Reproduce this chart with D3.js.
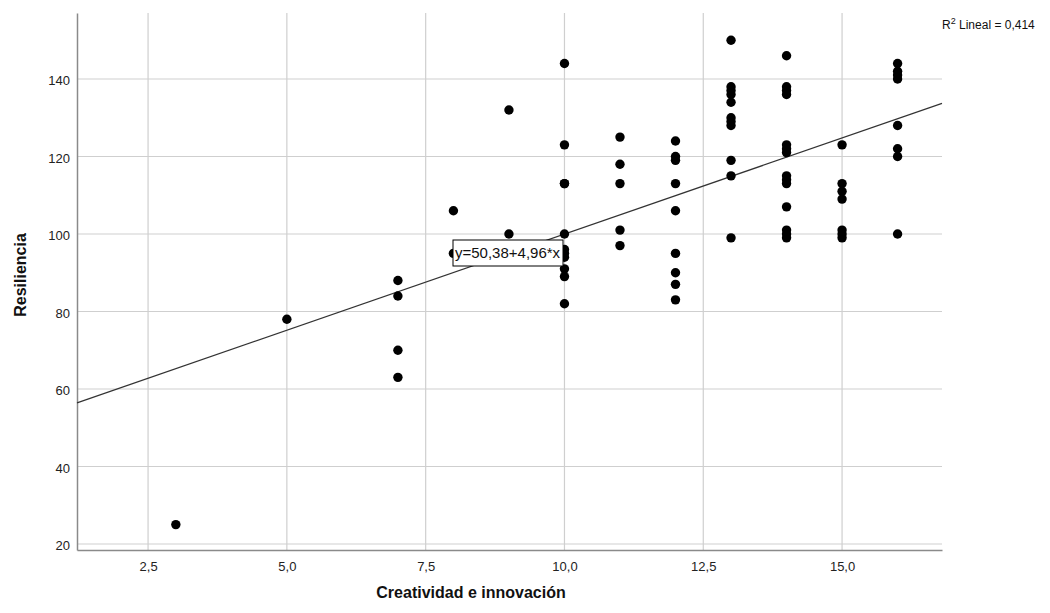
<!DOCTYPE html>
<html>
<head>
<meta charset="utf-8">
<script src="https://cdn.jsdelivr.net/npm/d3@7"></script>
<style>
  body { margin: 0; background: #fff; }
  text { font-family: "Liberation Sans", Arial, sans-serif; }
</style>
</head>
<body>
<svg id="chart" width="1050" height="613"></svg>
<script>
// Creatividad e innovación (x) vs Resiliencia (y), one entry per case
const creatividad = [
  3,
  5,
  7, 7, 7, 7,
  8, 8,
  9, 9,
  10, 10, 10, 10, 10, 10, 10, 10, 10, 10, 10,
  11, 11, 11, 11, 11,
  12, 12, 12, 12, 12, 12, 12, 12, 12,
  13, 13, 13, 13, 13, 13, 13, 13, 13, 13, 13,
  14, 14, 14, 14, 14, 14, 14, 14, 14, 14, 14, 14, 14, 14,
  15, 15, 15, 15, 15, 15, 15,
  16, 16, 16, 16, 16, 16, 16, 16
];
const resiliencia = [
  25,
  78,
  88, 84, 70, 63,
  106, 95,
  132, 100,
  144, 123, 113, 113, 100, 96, 95, 94, 91, 89, 82,
  125, 118, 113, 101, 97,
  124, 120, 119, 113, 106, 95, 90, 87, 83,
  150, 138, 137, 136, 134, 130, 129, 128, 119, 115, 99,
  146, 138, 137, 136, 123, 122, 121, 115, 114, 113, 107, 101, 100, 99,
  123, 113, 111, 109, 101, 100, 99,
  144, 142, 141, 140, 128, 122, 120, 100
];

const xTicks = [2.5, 5, 7.5, 10, 12.5, 15];
const yTicks = [20, 40, 60, 80, 100, 120, 140];

// linear fit reported by the chart
const intercept = 50.38;
const slope = 4.96;
const r2 = 0.414;

const fmt = v => d3.format(".1f")(v).replace(".", ",");

const svg = d3.select("#chart");
const plotLeft = 77, plotRight = 942, plotTop = 13, plotBottom = 550;

const x = d3.scaleLinear().domain([1.22, 16.8]).range([plotLeft, plotRight]);
const y = d3.scaleLinear().domain([18.45, 157.03]).range([plotBottom, plotTop]);

// grid
svg.append("g")
  .selectAll("line")
  .data(yTicks)
  .join("line")
  .attr("x1", plotLeft).attr("x2", plotRight)
  .attr("y1", d => y(d)).attr("y2", d => y(d))
  .attr("stroke", "#cfcfcf")
  .attr("stroke-width", 1.2);

svg.append("g")
  .selectAll("line")
  .data(xTicks)
  .join("line")
  .attr("x1", d => x(d)).attr("x2", d => x(d))
  .attr("y1", plotTop).attr("y2", plotBottom)
  .attr("stroke", "#cfcfcf")
  .attr("stroke-width", 1.2);

// axes
const xAxis = svg.append("g")
  .attr("transform", "translate(0," + plotBottom + ")")
  .call(d3.axisBottom(x).tickValues(xTicks).tickFormat(fmt).tickSize(0).tickPadding(12));

const yAxis = svg.append("g")
  .attr("transform", "translate(" + plotLeft + ",0)")
  .call(d3.axisLeft(y).tickValues(yTicks).tickFormat(d3.format("d")).tickSize(0).tickPadding(7));

[xAxis, yAxis].forEach(ax => {
  ax.select(".domain").attr("stroke", "#8a8a8a").attr("stroke-width", 1.5);
  ax.selectAll("text")
    .attr("font-family", "Liberation Sans, Arial, sans-serif")
    .attr("font-size", 13)
    .attr("fill", "#222");
});
yAxis.selectAll("text").attr("dy", "0.45em");

// fit line across the plot
const xs = x.domain();
svg.append("line")
  .attr("x1", x(xs[0])).attr("y1", y(intercept + slope * xs[0]))
  .attr("x2", x(xs[1])).attr("y2", y(intercept + slope * xs[1]))
  .attr("stroke", "#333")
  .attr("stroke-width", 1.2);

// points
svg.append("g")
  .selectAll("circle")
  .data(creatividad.map((c, i) => [c, resiliencia[i]]))
  .join("circle")
  .attr("cx", d => x(d[0]))
  .attr("cy", d => y(d[1]))
  .attr("r", 4.7)
  .attr("fill", "#000");

// equation label
const lbl = svg.append("g").attr("transform", "translate(453,240)");
lbl.append("rect")
  .attr("width", 110).attr("height", 26)
  .attr("fill", "#fff")
  .attr("stroke", "#000")
  .attr("stroke-width", 1);
lbl.append("text")
  .attr("x", 2).attr("y", 18)
  .attr("font-size", 15)
  .attr("fill", "#111")
  .text("y=" + String(intercept).replace(".", ",") + "+" + String(slope).replace(".", ",") + "*x");

// R squared
const rt = svg.append("text")
  .attr("x", 942).attr("y", 29)
  .attr("font-size", 12)
  .attr("fill", "#111");
rt.append("tspan").text("R");
rt.append("tspan").attr("font-size", 9).attr("dy", -5).text("2");
rt.append("tspan").attr("dy", 5).text(" Lineal = " + String(r2).replace(".", ","));

// axis titles
svg.append("text")
  .attr("x", 471).attr("y", 598)
  .attr("text-anchor", "middle")
  .attr("font-size", 16)
  .attr("font-weight", "bold")
  .attr("fill", "#111")
  .text("Creatividad e innovación");

svg.append("text")
  .attr("transform", "translate(26,275) rotate(-90)")
  .attr("text-anchor", "middle")
  .attr("font-size", 16)
  .attr("font-weight", "bold")
  .attr("fill", "#111")
  .text("Resiliencia");
</script>
</body>
</html>
